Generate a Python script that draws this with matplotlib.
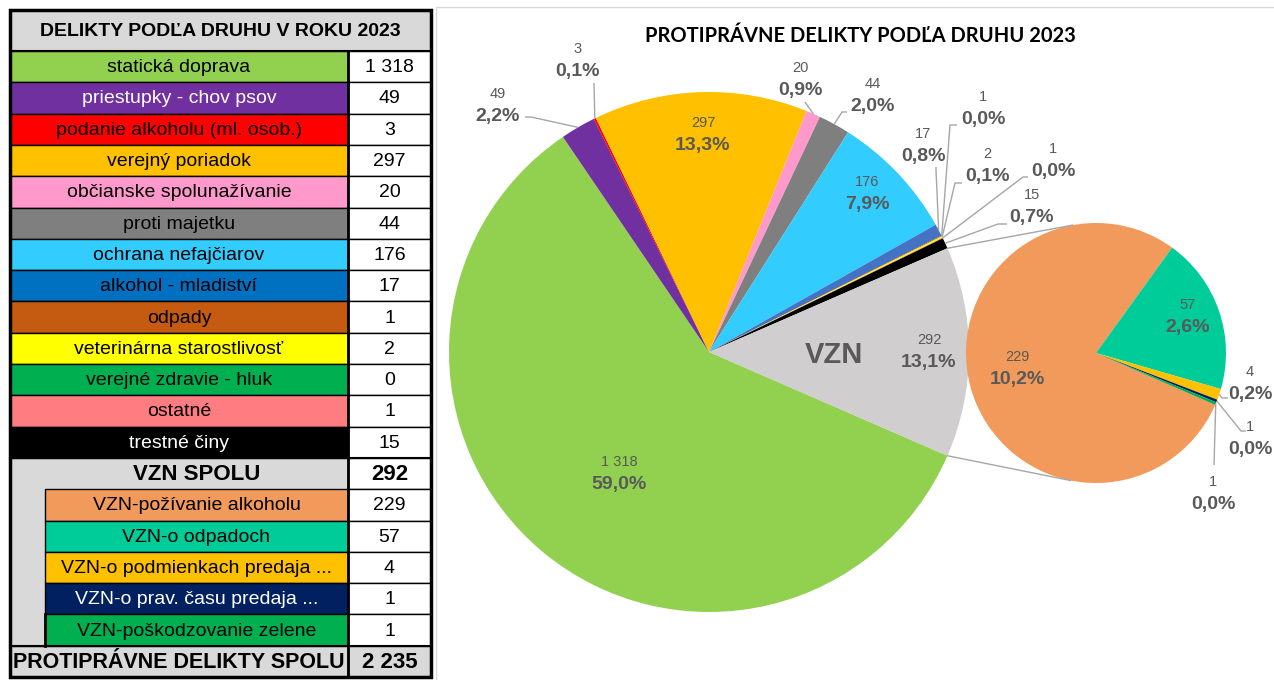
import matplotlib
matplotlib.use("Agg")
import matplotlib.pyplot as plt
import numpy as np
from matplotlib.patches import Rectangle

plt.rcParams['font.family'] = ['Liberation Sans', 'DejaVu Sans']

# --- data ---
main_labels = ['statická doprava', 'priestupky - chov psov', 'podanie alkoholu (ml. osob.)',
               'verejný poriadok', 'občianske spolunažívanie', 'proti majetku',
               'ochrana nefajčiarov', 'alkohol - mladiství', 'odpady',
               'veterinárna starostlivosť', 'verejné zdravie - hluk', 'ostatné', 'trestné činy']
main_values = [1318, 49, 3, 297, 20, 44, 176, 17, 1, 2, 0, 1, 15]
vzn_labels = ['VZN-požívanie alkoholu', 'VZN-o odpadoch', 'VZN-o podmienkach predaja ...',
              'VZN-o prav. času predaja ...', 'VZN-poškodzovanie zelene']
vzn_values = [229, 57, 4, 1, 1]

table_title = 'DELIKTY PODĽA DRUHU V ROKU 2023'
chart_title = 'PROTIPRÁVNE DELIKTY PODĽA DRUHU 2023'

# --- styles ---
main_colors = ['#92D050', '#7030A0', '#FF0000', '#FFC000', '#FF99CC', '#7F7F7F', '#33CCFF',
               '#0070C0', '#C55A11', '#FFFF00', '#00B050', '#FF7C80', '#000000']
pie_colors = list(main_colors)
pie_colors[7] = '#4472C4'
vzn_colors = ['#F19A5B', '#00CC99', '#FFC000', '#002060', '#00B050']
vzn_slice_color = '#D0CECE'
white_text = {'priestupky - chov psov', 'trestné činy', 'VZN-o prav. času predaja ...'}
GRAY = '#D9D9D9'
LBL = '#595959'
LEAD = '#A6A6A6'

W, H = 1274, 680


def fmt_num(v):
    return f"{v:,}".replace(',', ' ')


def fmt_pct(v, tot):
    return f"{100 * v / tot:.1f}".replace('.', ',') + '%'


vzn_total = sum(vzn_values)
grand_total = sum(main_values) + vzn_total

fig = plt.figure(figsize=(12.74, 6.8), dpi=100)

# ---------------- table (pixel coords, y down) ----------------
axt = fig.add_axes([0, 0, 1, 1])
axt.set_xlim(0, W)
axt.set_ylim(H, 0)
axt.axis('off')

X0, XS, XV, XI = 10, 348, 431, 45
TOP, HEAD, RH = 10, 51, 31.3
BOTTOM = HEAD + 20 * RH


def cell(x0, x1, y0, y1, fc, text='', tc='black', bold=False, size=14, tx=None):
    axt.add_patch(Rectangle((x0, y0), x1 - x0, y1 - y0, facecolor=fc,
                            edgecolor='black', linewidth=1.0))
    if text:
        axt.text((x0 + x1) / 2 if tx is None else tx, (y0 + y1) / 2 + 1, text,
                 ha='center', va='center', fontsize=size, color=tc,
                 fontweight='bold' if bold else 'normal')


cell(X0, XV, TOP, HEAD, GRAY, table_title, bold=True, size=14)
for i, (lab, val) in enumerate(zip(main_labels, main_values)):
    y0 = HEAD + i * RH
    cell(X0, XS, y0, y0 + RH, main_colors[i], lab,
         tc='white' if lab in white_text else 'black')
    cell(XS, XV, y0, y0 + RH, 'white', fmt_num(val))

yv = HEAD + 13 * RH
axt.add_patch(Rectangle((X0, yv), XS - X0, 6 * RH, facecolor=GRAY,
                        edgecolor='black', linewidth=1.0))
axt.text((XI + XS) / 2, yv + RH / 2 + 1, 'VZN SPOLU', ha='center', va='center',
         fontsize=16, fontweight='bold')
cell(XS, XV, yv, yv + RH, 'white', fmt_num(vzn_total), bold=True, size=16)
for i, (lab, val) in enumerate(zip(vzn_labels, vzn_values)):
    y0 = yv + (i + 1) * RH
    cell(XI, XS, y0, y0 + RH, vzn_colors[i], lab,
         tc='white' if lab in white_text else 'black')
    cell(XS, XV, y0, y0 + RH, 'white', fmt_num(val))
axt.plot([XI, XI], [yv + 5 * RH, yv + 6 * RH], color='black', lw=2)

yt = yv + 6 * RH
cell(X0, XS, yt, BOTTOM, GRAY, 'PROTIPRÁVNE DELIKTY SPOLU', bold=True, size=15.5)
cell(XS, XV, yt, BOTTOM, GRAY, fmt_num(grand_total), bold=True, size=16)

axt.plot([XS, XS], [HEAD, BOTTOM], color='black', lw=2)
axt.plot([X0, XV], [HEAD, HEAD], color='black', lw=1.5)
axt.plot([X0, XV], [yv, yv], color='black', lw=1.5)
axt.plot([X0, XV], [yt, yt], color='black', lw=1.5)
axt.add_patch(Rectangle((X0, TOP), XV - X0, BOTTOM - TOP, fill=False,
                        edgecolor='black', linewidth=2.5))

# chart area border
axt.add_patch(Rectangle((436, 7), 900, 700, fill=False, edgecolor=GRAY, linewidth=1))

# ---------------- pie of pie (pixel coords, y up) ----------------
axp = fig.add_axes([0, 0, 1, 1])
axp.patch.set_alpha(0)

start = -180 * vzn_total / grand_total   # VZN slice centred at 3 o'clock
main_c = (709, H - 352)
sec_c = (1096, H - 353)

wedges, _ = axp.pie(main_values + [vzn_total], colors=pie_colors + [vzn_slice_color],
                    startangle=start, counterclock=False, radius=260, center=main_c,
                    labeldistance=None, wedgeprops=dict(linewidth=0))
swedges, _ = axp.pie(vzn_values, colors=vzn_colors, startangle=start,
                     counterclock=False, radius=130, center=sec_c,
                     labeldistance=None, wedgeprops=dict(linewidth=0))


def edge_point(w, ang=None):
    a = np.deg2rad((w.theta1 + w.theta2) / 2 if ang is None else ang)
    return w.center[0] + w.r * np.cos(a), w.center[1] + w.r * np.sin(a)


def label(x, y, val, pct, gap=22.5):
    axp.text(x, H - y, val, ha='center', va='center', fontsize=10.5, color=LBL)
    axp.text(x, H - y - gap, pct, ha='center', va='center', fontsize=14,
             fontweight='bold', color=LBL)


def leader(w, pts):
    xs = [p[0] for p in pts]
    ys = [H - p[1] for p in pts]
    ex, ey = edge_point(w)
    axp.plot(xs + [ex], ys + [ey], color=LEAD, lw=1, solid_capstyle='butt')


# label layout (value text centre in px) and leader stubs
main_pos = [(619, 462), (498, 94), (578, 49), (703, 123), (800, 68), (873, 84),
            (867, 182), (923, 134), (983, 97), (987, 154), None, (1053, 149),
            (1032, 195), (929, 340)]
main_lead = {1: [(525, 117), (531, 117)], 2: [(594, 83)], 4: [(805, 102)],
             5: [(847, 112), (842, 112)], 7: [(936, 167), (936, 170)],
             8: [(957, 125), (950, 125)], 9: [(962, 183), (955, 183)],
             11: [(1028, 177), (1023, 177)], 12: [(1007, 224), (998, 224)]}
vals_all = main_values + [vzn_total]
for i, (w, pos) in enumerate(zip(wedges, main_pos)):
    if pos is None:
        continue
    label(pos[0], pos[1], fmt_num(vals_all[i]), fmt_pct(vals_all[i], grand_total))
    if i in main_lead:
        leader(w, main_lead[i])

axp.text(834, H - 355, 'VZN', ha='center', va='center', fontsize=21,
         fontweight='bold', color=LBL)

sec_pos = [(1017, 357), (1188, 305), (1250, 372), (1250, 427), (1213, 482)]
sec_lead = {2: [(1228, 398), (1222, 398)], 3: [(1246, 431), (1241, 431)],
            4: [(1214, 465)]}
for i, (w, pos) in enumerate(zip(swedges, sec_pos)):
    label(pos[0], pos[1], fmt_num(vzn_values[i]), fmt_pct(vzn_values[i], grand_total))
    if i in sec_lead:
        leader(w, sec_lead[i])

# connector lines: from the VZN slice edges, tangent to the secondary pie
vw = wedges[-1]
for ang, pick in ((vw.theta2, max), (vw.theta1, min)):
    px, py = edge_point(vw, ang)
    dx, dy = px - sec_c[0], py - sec_c[1]
    d = np.hypot(dx, dy)
    phi = np.arctan2(dy, dx)
    alpha = np.arccos(130 / d)
    cands = [(sec_c[0] + 130 * np.cos(phi + s * alpha), sec_c[1] + 130 * np.sin(phi + s * alpha))
             for s in (1, -1)]
    tx, ty = pick(cands, key=lambda p: p[1])
    axp.plot([px, tx], [py, ty], color=LEAD, lw=1)

axp.text(860, H - 36, chart_title, ha='center', va='center', fontsize=14.5,
         fontweight='bold', family=['Lato', 'DejaVu Sans'])

axp.set_xlim(0, W)
axp.set_ylim(0, H)
axp.axis('off')

fig.savefig('out.png', dpi=100)
